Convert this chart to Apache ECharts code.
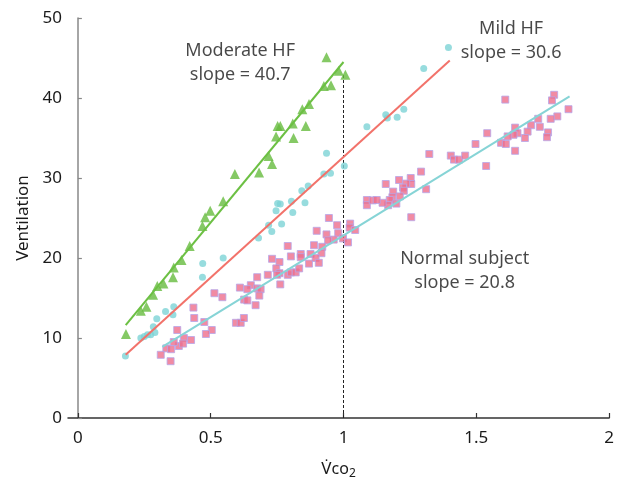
<!DOCTYPE html>
<html>
<head>
<meta charset="utf-8">
<script src="https://cdn.jsdelivr.net/npm/echarts@6/dist/echarts.min.js"></script>
<style>html,body{margin:0;padding:0;background:#fff}#c{width:617px;height:488px}</style>
</head>
<body>
<div id="c"></div>
<script>
// ---------- data ----------
const xTicks = [0, 0.5, 1, 1.5, 2];
const yTicks = [0, 10, 20, 30, 40, 50];

const moderateHF = [
  [0.936,45.1],[0.982,43.4],[1.007,42.9],[0.926,41.5],[0.953,41.6],[0.845,38.6],[0.870,39.25],
  [0.752,36.5],[0.762,36.5],[0.809,36.8],[0.858,36.5],[0.746,35.2],[0.812,35.0],[0.718,32.75],
  [0.731,31.75],[0.682,30.7],[0.591,30.5],[0.547,27.1],[0.498,25.9],[0.479,25.1],[0.469,24.0],
  [0.421,21.5],[0.390,19.75],[0.361,18.8],[0.358,17.6],[0.322,16.8],[0.299,16.5],[0.283,15.4],
  [0.258,13.9],[0.237,13.4],[0.181,10.5]
];
const mildHF = [
  [0.936,33.1],[0.926,30.5],[0.951,30.6],[1.003,31.5],[0.867,29.0],[0.843,28.4],[0.804,27.1],
  [0.855,26.9],[0.752,26.8],[0.762,26.75],[0.746,25.9],[0.809,25.7],[1.395,46.3],[1.302,43.7],
  [1.159,37.9],[1.227,38.6],[1.202,37.6],[1.165,37.5],[1.088,36.4],[0.718,24.1],[0.767,24.25],
  [0.730,23.3],[0.680,22.5],[0.547,20.0],[0.470,19.3],[0.469,17.6],[0.361,13.9],[0.330,13.3],
  [0.358,12.9],[0.297,12.4],[0.284,11.4],[0.290,10.7],[0.274,10.4],[0.262,10.4],[0.250,10.2],
  [0.237,10.0],[0.179,7.75]
];
const normalSubject = [
  [0.945,25.0],[0.976,24.1],[1.025,24.3],[1.023,23.8],[0.899,23.4],[0.936,22.95],[0.980,23.1],
  [0.963,22.3],[0.998,22.45],[1.017,21.95],[0.942,22.2],[0.790,21.5],[0.889,21.6],[0.920,21.4],
  [0.917,20.6],[0.731,19.9],[0.759,19.5],[0.802,20.2],[0.839,20.5],[0.839,20.1],[0.876,20.5],
  [0.870,19.3],[0.895,20.0],[0.907,19.4],[0.747,18.7],[0.759,18.1],[0.750,17.9],[0.715,17.9],
  [0.790,17.9],[0.802,18.2],[0.820,18.2],[0.833,18.7],[0.675,17.6],[0.762,16.7],[0.651,16.6],
  [0.610,16.3],[0.638,16.1],[0.675,16.2],[0.688,16.1],[0.626,14.8],[0.638,14.7],[0.683,15.3],
  [0.669,14.1],[0.514,15.6],[0.544,15.1],[0.435,13.8],[0.438,12.5],[0.476,12.0],[0.595,11.9],
  [0.613,11.9],[0.625,12.5],[0.504,11.0],[0.482,10.5],[0.374,11.0],[0.399,10.0],[0.426,9.75],
  [0.380,9.0],[0.396,9.3],[0.361,9.5],[0.333,8.7],[0.351,8.6],[0.312,7.9],[0.349,7.1],
  [1.044,23.5],
  [1.609,39.8],[1.793,40.4],[1.785,39.7],[1.847,38.6],[1.805,37.7],[1.780,37.4],[1.733,37.4],
  [1.706,36.6],[1.739,36.4],[1.646,36.3],[1.693,35.8],[1.770,35.7],[1.655,35.6],[1.640,35.4],
  [1.618,35.2],[1.683,35.0],[1.766,35.1],[1.541,35.6],[1.593,34.4],[1.611,34.25],[1.497,34.25],
  [1.646,33.4],[1.537,31.5],[1.323,33.0],[1.404,32.8],[1.416,32.3],[1.435,32.3],[1.458,32.8],
  [1.292,30.8],[1.311,28.6],[1.253,30.0],[1.255,29.25],[1.236,29.3],[1.224,28.8],[1.227,28.4],
  [1.209,29.75],[1.212,27.7],[1.187,28.3],[1.184,27.6],[1.159,29.25],[1.174,27.25],[1.168,26.6],
  [1.199,26.8],[1.147,26.9],[1.088,27.25],[1.088,26.6],[1.110,27.2],[1.125,27.25],[1.255,25.1]
];
const moderateFit = [[0.18,11.6],[1.0,44.5]];
const mildFit = [[0.18,7.9],[1.40,44.7]];
const normalFit = [[0.318,8.9],[1.851,40.2]];
const thresholdLine = [[1,0],[1,43]];

const annotations = [
  {value:[0.611,44.4], text:'Moderate HF\nslope = 40.7'},
  {value:[1.631,47.1], text:'Mild HF\nslope = 30.6'},
  {value:[1.456,18.4], text:'Normal subject\nslope = 20.8'}
];

// ---------- chart ----------
const FONT = '"Noto Sans", "DejaVu Sans", sans-serif';
const TXT = '#1a1a1a';
const chart = echarts.init(document.getElementById('c'), null, {renderer:'canvas'});
chart.setOption({
  backgroundColor:'#fff',
  animation:false,
  grid:{left:68, right:2, top:18, bottom:70, containLabel:false},
  xAxis:{
    type:'value', min:-0.0372, max:2,
    name:'{v|V\u0307}{c|co}{s|2}', nameLocation:'middle', nameGap:40,
    nameTextStyle:{rich:{
      v:{fontSize:17, color:TXT, fontFamily:FONT},
      c:{fontSize:16, color:TXT, fontFamily:FONT},
      s:{fontSize:12, color:TXT, fontFamily:FONT, verticalAlign:'bottom', padding:[10,0,0,0]}
    }},
    axisLine:{show:true, onZero:false, lineStyle:{color:'#333', width:1.5}},
    axisTick:{show:true, inside:true, length:5, customValues:xTicks, lineStyle:{color:'#333', width:1.2}},
    axisLabel:{customValues:xTicks, fontSize:17, color:TXT, fontFamily:FONT, margin:12,
      formatter:v=>String(v)},
    splitLine:{show:false}
  },
  yAxis:{
    type:'value', min:0, max:50, interval:10,
    name:'Ventilation', nameLocation:'middle', nameGap:36, nameRotate:90,
    nameTextStyle:{fontSize:17, color:TXT, fontFamily:FONT},
    axisLine:{show:true, lineStyle:{color:'#888', width:1.5}},
    axisTick:{show:true, inside:true, length:4, lineStyle:{color:'#888', width:1.2}},
    axisLabel:{fontSize:17, color:TXT, fontFamily:FONT, margin:6},
    splitLine:{show:false}
  },
  series:[
    {type:'line', data:thresholdLine, symbol:'none', silent:true,
      lineStyle:{color:'#222', width:1, type:[3,2]}, z:1},
    {type:'scatter', name:'Normal subject', data:normalSubject, symbol:'rect', symbolSize:7,
      itemStyle:{color:'#ee6e8c', borderColor:'#b6a6ea', borderWidth:1}, z:2},
    {type:'scatter', name:'Mild HF', data:mildHF, symbol:'circle', symbolSize:7,
      itemStyle:{color:'#7dd3d6'}, z:3},
    {type:'scatter', name:'Moderate HF', data:moderateHF, symbol:'triangle', symbolSize:10,
      itemStyle:{color:'#66bb3f'}, z:3},
    {type:'line', data:normalFit, symbol:'none', lineStyle:{color:'#86d4d6', width:2}, z:4},
    {type:'line', data:mildFit, symbol:'none', lineStyle:{color:'#f2726a', width:2}, z:4},
    {type:'line', data:moderateFit, symbol:'none', lineStyle:{color:'#6cc043', width:2}, z:4},
    {type:'scatter', data:annotations, symbolSize:0, silent:true, z:5,
      label:{show:true, position:'inside', formatter:p=>p.data.text, fontSize:18,
        lineHeight:24, color:TXT, fontFamily:FONT, align:'center'}}
  ]
});
</script>
</body>
</html>
